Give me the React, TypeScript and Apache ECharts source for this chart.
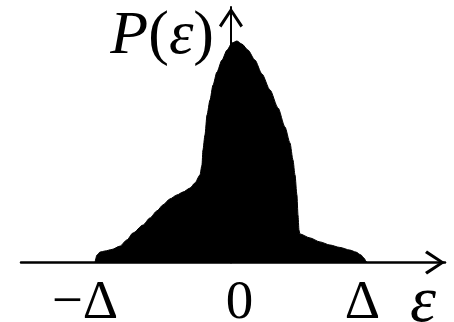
import React, { useEffect, useRef } from "react";
import * as echarts from "echarts";

// Energy offset ε in units of Δ, and the distribution P(ε) (peak = 1)
const EPSILON = [
  -1.0, -0.985, -0.963, -0.926, -0.875, -0.816, -0.765, -0.721, -0.647, -0.596,
  -0.544, -0.5, -0.449, -0.397, -0.353, -0.301, -0.265, -0.228, -0.213, -0.206,
  -0.191, -0.176, -0.154, -0.132, -0.103, -0.066, -0.029, 0.007, 0.044, 0.081,
  0.125, 0.176, 0.228, 0.287, 0.346, 0.397, 0.434, 0.456, 0.471, 0.485,
  0.493, 0.5, 0.507, 0.581, 0.654, 0.728, 0.801, 0.875, 0.919, 0.956,
  0.978, 0.993, 1.0,
];
const DENSITY = [
  0, 0.034, 0.047, 0.052, 0.059, 0.074, 0.102, 0.133, 0.169, 0.201,
  0.233, 0.26, 0.287, 0.305, 0.318, 0.336, 0.359, 0.395, 0.44, 0.508,
  0.576, 0.666, 0.734, 0.801, 0.86, 0.914, 0.959, 0.991, 1.0, 0.986,
  0.959, 0.914, 0.851, 0.779, 0.698, 0.612, 0.54, 0.463, 0.395, 0.305,
  0.214, 0.147, 0.129, 0.111, 0.093, 0.079, 0.068, 0.056, 0.047, 0.034,
  0.02, 0.007, 0,
];

// Tick positions on the ε axis and their labels
const TICK_VALUES = [-1, 0, 1];
const TICK_LABELS = ["−Δ", "0", "Δ"];

const X_MIN = -1.544;
const X_MAX = 1.574;
const Y_MAX = 1.1535;

const SERIF = "Liberation Serif";

// Open chevron pointing up; ECharts rotates it along each axis
const CHEVRON = "path://M12,0 L24,18 L21.6,20 L12,5.2 L2.4,20 L0,18 Z";

export default function App() {
  const ref = useRef<HTMLDivElement>(null);

  useEffect(() => {
    if (!ref.current) return;
    const chart = echarts.init(ref.current, null, { renderer: "svg" });
    const points = EPSILON.map((x, i) => [x, DENSITY[i]]);

    chart.setOption({
      animation: false,
      backgroundColor: "#fff",
      grid: { left: 21, right: 9, top: 7, bottom: 59.5, outerBoundsMode: "none" },
      xAxis: {
        type: "value",
        min: X_MIN,
        max: X_MAX,
        axisLine: {
          show: true,
          lineStyle: { color: "#000", width: 2.5 },
          symbol: ["none", CHEVRON],
          symbolSize: [24, 20],
          symbolOffset: [0, -10],
        },
        axisTick: { show: false },
        axisLabel: { show: false },
        splitLine: { show: false },
      },
      yAxis: {
        type: "value",
        min: 0,
        max: Y_MAX,
        axisLine: {
          show: true,
          onZero: true,
          lineStyle: { color: "#000", width: 2 },
          symbol: ["none", CHEVRON],
          symbolSize: [24, 21],
          symbolOffset: [0, -10.5],
        },
        axisTick: { show: false },
        axisLabel: { show: false },
        splitLine: { show: false },
      },
      series: [
        {
          type: "line",
          data: points,
          showSymbol: false,
          smooth: 0.25,
          smoothMonotone: "x",
          lineStyle: { color: "#000", width: 1 },
          areaStyle: { color: "#000", opacity: 1 },
        },
      ],
    });

    // Tick labels and axis titles, anchored to the axes' own scales
    const px = (v: number) => chart.convertToPixel({ xAxisIndex: 0 }, v) as number;
    const py = (v: number) => chart.convertToPixel({ yAxisIndex: 0 }, v) as number;
    const axisY = py(0);
    const axisTop = py(Y_MAX);
    const labelShift = [-10, 8.5, -4.5];

    const tickTexts = TICK_VALUES.map((v, i) => ({
      type: "text",
      x: px(v) + labelShift[i],
      y: axisY + 37,
      style: {
        text: TICK_LABELS[i],
        fontFamily: SERIF,
        fontSize: 55,
        lineHeight: 40,
        fill: "#000",
        align: "center",
        verticalAlign: "middle",
      },
      silent: true,
    }));

    chart.setOption({
      graphic: [
        ...tickTexts,
        {
          type: "text",
          x: px(X_MAX) - 22,
          y: axisY + 36,
          style: {
            text: "ε",
            fontFamily: SERIF,
            fontStyle: "italic",
            fontSize: 66,
            lineHeight: 40,
            fill: "#000",
            align: "center",
            verticalAlign: "middle",
          },
          silent: true,
        },
        {
          type: "text",
          x: px(0) - 17,
          y: axisTop + 25,
          style: {
            text: "{i|P}{n|(}{i|ε}{n|)}",
            align: "right",
            verticalAlign: "middle",
            rich: {
              i: { fontFamily: SERIF, fontStyle: "italic", fontSize: 62, lineHeight: 50, fill: "#000" },
              n: { fontFamily: SERIF, fontSize: 62, lineHeight: 50, fill: "#000" },
            },
          },
          silent: true,
        },
      ],
    });

    return () => chart.dispose();
  }, []);

  return (
    <div
      ref={ref}
      style={{ position: "fixed", left: 0, top: 0, width: 454, height: 322 }}
    />
  );
}
